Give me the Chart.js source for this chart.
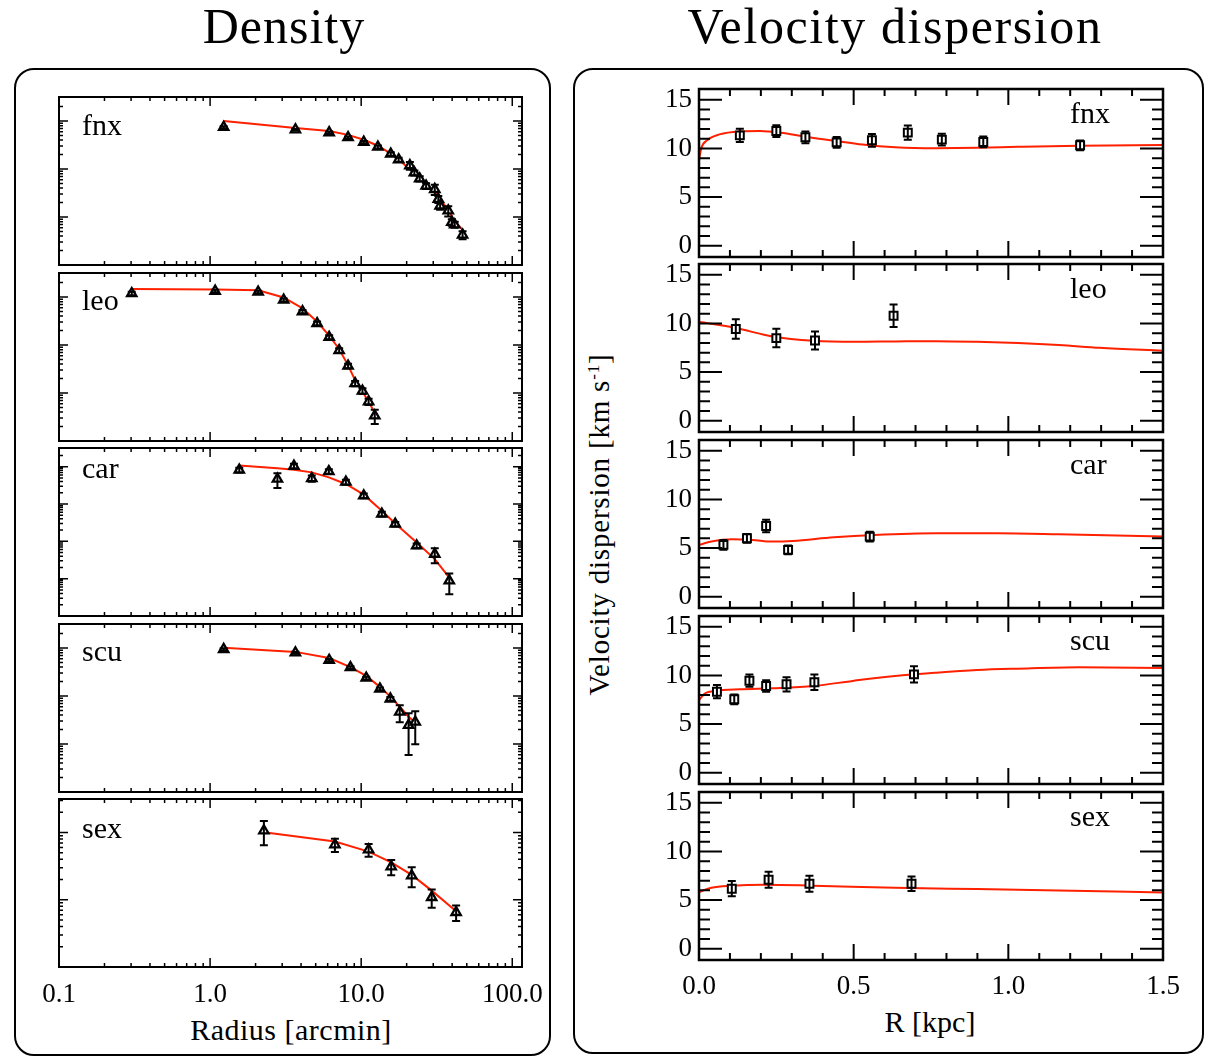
<!DOCTYPE html>
<html><head><meta charset="utf-8">
<script src="https://cdn.jsdelivr.net/npm/chart.js@4.4.1/dist/chart.umd.min.js"></script>
<style>
html,body{margin:0;padding:0;background:#fff;}
body{width:1208px;height:1057px;overflow:hidden;position:relative;font-family:"Liberation Serif",serif;color:#000;}
.box{position:absolute;border:2px solid #000;border-radius:20px;box-sizing:border-box;}
.t{position:absolute;white-space:nowrap;text-align:center;}
canvas{position:absolute;}
</style></head><body>
<div class="box" style="left:14px;top:68px;width:537px;height:988px"></div>
<div class="box" style="left:573px;top:68px;width:631px;height:986px"></div>
<div class="t" style="left:134px;width:300px;top:1px;font-size:50px;line-height:50px;letter-spacing:1px">Density</div>
<div class="t" style="left:645px;width:500px;top:1px;font-size:50px;line-height:50px;letter-spacing:1.6px">Velocity dispersion</div>
<div class="t" style="left:141px;width:300px;top:1015px;font-size:30px;line-height:30px;letter-spacing:0.5px">Radius [arcmin]</div>
<div class="t" style="left:830px;width:200px;top:1007px;font-size:30px;line-height:30px">R [kpc]</div>
<div class="t" style="left:399px;width:400px;top:510px;height:29px;font-size:29px;line-height:29px;letter-spacing:0.8px;transform:rotate(-90deg)">Velocity dispersion [km s<sup style="font-size:17px;line-height:0;vertical-align:10px">-1</sup>]</div>
<script>
// ---------------- DATA ----------------
const galaxies = ['fnx', 'leo', 'car', 'scu', 'sex'];

// Density profiles: radius [arcmin], surface density (arbitrary units), error, model
const fnxR = [1.23, 3.67, 6.14, 8.19, 10.4, 12.9, 15.7, 17.7, 21.0, 22.5, 24.4, 26.9, 30.7, 32.4, 33.3, 37.7, 39.8, 41.6, 46.9];
const fnxDens = [0.742, 0.662, 0.574, 0.453, 0.364, 0.287, 0.206, 0.157, 0.118, 0.0835, 0.0628, 0.0442, 0.0378, 0.0235, 0.0171, 0.0135, 0.00778, 0.00694, 0.00425];
const fnxDensErr = [0.04, 0.03, 0.03, 0.025, 0.02, 0.02, 0.018, 0.015, 0.022, 0.01, 0.008, 0.006, 0.009, 0.004, 0.003, 0.0032, 0.0012, 0.001, 0.0008];
const fnxDensModel = [1.0, 0.717, 0.622, 0.514, 0.406, 0.305, 0.209, 0.157, 0.098, 0.085, 0.067, 0.048, 0.033, 0.027, 0.0236, 0.0139, 0.0105, 0.0083, 0.0054];

const leoR = [0.303, 1.08, 2.08, 3.07, 4.09, 5.11, 6.14, 7.15, 8.19, 9.12, 10.2, 11.2, 12.3];
const leoDens = [1.19, 1.33, 1.27, 0.867, 0.497, 0.282, 0.145, 0.0771, 0.0366, 0.0158, 0.011, 0.00662, 0.00336];
const leoDensErr = [0.1, 0.08, 0.08, 0.06, 0.04, 0.025, 0.014, 0.008, 0.004, 0.002, 0.0015, 0.001, 0.0011];
const leoDensModel = [1.46, 1.44, 1.38, 0.98, 0.58, 0.305, 0.157, 0.0825, 0.0376, 0.0185, 0.0107, 0.0066, 0.0039];

const carR = [1.56, 2.79, 3.59, 4.71, 6.11, 7.92, 10.4, 13.7, 16.8, 23.3, 30.7, 38.3];
const carDens = [0.816, 0.468, 1.04, 0.486, 0.748, 0.389, 0.167, 0.054, 0.0291, 0.00762, 0.00457, 0.00088];
const carDensErr = [0.12, 0.2, 0.15, 0.09, 0.1, 0.06, 0.025, 0.008, 0.004, 0.0011, 0.002, 0.0005];
const carDensModel = [1.08, 0.906, 0.832, 0.703, 0.516, 0.344, 0.178, 0.066, 0.0302, 0.00933, 0.00335, 0.00107];

const scuR = [1.23, 3.67, 6.14, 8.49, 10.8, 13.3, 15.6, 18.0, 20.6, 22.8];
const scuDens = [0.94, 0.80, 0.557, 0.393, 0.237, 0.141, 0.0875, 0.0464, 0.0247, 0.0289];
const scuDensErr = [0.05, 0.04, 0.03, 0.025, 0.015, 0.01, 0.008, 0.018, 0.0188, 0.019];
const scuDensModel = [1.01, 0.83, 0.62, 0.40, 0.262, 0.155, 0.097, 0.0596, 0.037, 0.028];

const sexR = [2.27, 6.70, 11.2, 15.8, 21.6, 29.3, 42.5];
const sexDens = [1.07, 0.663, 0.558, 0.312, 0.229, 0.109, 0.0652];
const sexDensErr = [0.42, 0.15, 0.12, 0.08, 0.075, 0.033, 0.017];
const sexDensModel = [1.01, 0.735, 0.522, 0.361, 0.235, 0.137, 0.0675];

// Velocity dispersion: R [kpc], sigma [km/s], error; model curve R, sigma
const fnxVR = [0.132, 0.250, 0.344, 0.445, 0.559, 0.675, 0.785, 0.919, 1.232];
const fnxVel = [11.34, 11.78, 11.14, 10.62, 10.83, 11.62, 10.9, 10.66, 10.32];
const fnxVelErr = [0.68, 0.6, 0.6, 0.55, 0.65, 0.73, 0.6, 0.55, 0.5];
const fnxModelR = [0, 0.007, 0.026, 0.066, 0.132, 0.198, 0.264, 0.344, 0.436, 0.529, 0.634, 0.766, 0.899, 1.031, 1.229, 1.5];
const fnxModelVel = [8.78, 9.98, 10.83, 11.44, 11.74, 11.78, 11.6, 11.2, 10.8, 10.4, 10.12, 10.02, 10.06, 10.16, 10.28, 10.35];

const leoVR = [0.119, 0.250, 0.375, 0.629];
const leoVel = [9.42, 8.49, 8.25, 10.78];
const leoVelErr = [1.0, 0.95, 0.92, 1.16];
const leoModelR = [0, 0.119, 0.238, 0.370, 0.502, 0.634, 0.767, 0.899, 1.031, 1.163, 1.295, 1.5];
const leoModelVel = [10.16, 9.52, 8.66, 8.22, 8.11, 8.15, 8.18, 8.11, 7.98, 7.78, 7.5, 7.19];

const carVR = [0.079, 0.155, 0.217, 0.288, 0.552];
const carVel = [5.33, 6.01, 7.27, 4.82, 6.18];
const carVelErr = [0.5, 0.45, 0.65, 0.45, 0.5];
const carModelR = [0, 0.040, 0.106, 0.172, 0.238, 0.304, 0.436, 0.568, 0.767, 0.965, 1.163, 1.5];
const carModelVel = [5.33, 5.67, 5.91, 5.84, 5.67, 5.74, 6.11, 6.35, 6.52, 6.52, 6.42, 6.18];

const scuVR = [0.058, 0.114, 0.163, 0.217, 0.283, 0.373, 0.695];
const scuVel = [8.33, 7.55, 9.46, 8.91, 9.09, 9.29, 10.11];
const scuVelErr = [0.68, 0.5, 0.63, 0.6, 0.73, 0.8, 0.84];
const scuModelR = [0, 0.020, 0.053, 0.132, 0.238, 0.370, 0.502, 0.634, 0.767, 0.899, 1.031, 1.229, 1.5];
const scuModelVel = [7.48, 8.17, 8.4, 8.57, 8.68, 8.91, 9.46, 9.94, 10.28, 10.55, 10.69, 10.83, 10.76];

const sexVR = [0.106, 0.225, 0.357, 0.687];
const sexVel = [6.17, 7.09, 6.68, 6.68];
const sexVelErr = [0.78, 0.82, 0.82, 0.75];
const sexModelR = [0, 0.040, 0.106, 0.211, 0.370, 0.634, 0.899, 1.163, 1.5];
const sexModelVel = [5.82, 6.27, 6.48, 6.58, 6.48, 6.27, 6.13, 5.99, 5.79];

// tick labels
const densXTickLabels = [0.1, 1, 10, 100];
const velXTickLabels = [0, 0.5, 1.0, 1.5];
const velYTickLabels = [0, 5, 10, 15];

// ---------------- BUILD ----------------
const density = {
  fnx: {r: fnxR, s: fnxDens, e: fnxDensErr, m: fnxDensModel, ymin: 1e-3},
  leo: {r: leoR, s: leoDens, e: leoDensErr, m: leoDensModel, ymin: 1e-3},
  car: {r: carR, s: carDens, e: carDensErr, m: carDensModel, ymin: 1e-4},
  scu: {r: scuR, s: scuDens, e: scuDensErr, m: scuDensModel, ymin: 1e-3},
  sex: {r: sexR, s: sexDens, e: sexDensErr, m: sexDensModel, ymin: 1e-2}
};
const velocity = {
  fnx: {r: fnxVR, v: fnxVel, e: fnxVelErr, mr: fnxModelR, mv: fnxModelVel},
  leo: {r: leoVR, v: leoVel, e: leoVelErr, mr: leoModelR, mv: leoModelVel},
  car: {r: carVR, v: carVel, e: carVelErr, mr: carModelR, mv: carModelVel},
  scu: {r: scuVR, v: scuVel, e: scuVelErr, mr: scuModelR, mv: scuModelVel},
  sex: {r: sexVR, v: sexVel, e: sexVelErr, mr: sexModelR, mv: sexModelVel}
};

const RED = '#ff2000';
const FONT = 'Liberation Serif';
const TICK_FONT = {family: FONT, size: 27};

function logTicks(min, max) {
  const major = [], minor = [];
  for (let k = Math.floor(Math.log10(min)); k <= Math.ceil(Math.log10(max)); k++) {
    for (let m = 1; m <= 9; m++) {
      const v = m * Math.pow(10, k);
      if (v < min * 0.999 || v > max * 1.001) continue;
      (m === 1 ? major : minor).push(v);
    }
  }
  return {major, minor};
}
function linTicks(min, max, step, majorEvery) {
  const major = [], minor = [];
  const i0 = Math.ceil(min / step - 1e-9), i1 = Math.floor(max / step + 1e-9);
  for (let i = i0; i <= i1; i++) {
    const v = +(i * step).toFixed(6);
    (i % majorEvery === 0 ? major : minor).push(v);
  }
  return {major, minor};
}

const framePlugin = {
  id: 'frame',
  afterDraw(chart, args, o) {
    const {ctx, chartArea: a} = chart;
    const xs = chart.scales.x, ys = chart.scales.y;
    ctx.save();
    ctx.strokeStyle = '#000';
    ctx.lineWidth = o.tickWidth;
    ctx.beginPath();
    const xt = (vals, len) => vals.forEach(v => {
      const p = xs.getPixelForValue(v);
      if (p <= a.left + 1.5 || p >= a.right - 1.5) return;
      ctx.moveTo(p, a.top); ctx.lineTo(p, a.top + len);
      ctx.moveTo(p, a.bottom); ctx.lineTo(p, a.bottom - len);
    });
    const yt = (vals, len) => vals.forEach(v => {
      const p = ys.getPixelForValue(v);
      if (p <= a.top + 1.5 || p >= a.bottom - 1.5) return;
      ctx.moveTo(a.left, p); ctx.lineTo(a.left + len, p);
      ctx.moveTo(a.right, p); ctx.lineTo(a.right - len, p);
    });
    xt(o.x.minor, o.xMinLen); xt(o.x.major, o.xMajLen);
    yt(o.y.minor, o.yMinLen); yt(o.y.major, o.yMajLen);
    ctx.stroke();
    ctx.lineWidth = o.frameWidth;
    ctx.strokeRect(a.left, a.top, a.right - a.left, a.bottom - a.top);
    ctx.fillStyle = '#000';
    ctx.font = o.labelFont;
    ctx.textAlign = 'left';
    ctx.textBaseline = 'alphabetic';
    ctx.fillText(o.label, a.left + o.labelDx, a.top + o.labelDy);
    ctx.restore();
  }
};

const errPlugin = {
  id: 'errbars',
  afterDatasetsDraw(chart, args, o) {
    const {ctx} = chart;
    const ys = chart.scales.y;
    chart.data.datasets.forEach((ds, i) => {
      if (!ds.errors) return;
      const meta = chart.getDatasetMeta(i);
      ctx.save();
      ctx.strokeStyle = '#000';
      ctx.lineWidth = o.width;
      ctx.beginPath();
      meta.data.forEach((pt, j) => {
        const v = ds.data[j].y, e = ds.errors[j];
        const lo = Math.max(v - e, ys.min);
        const y1 = ys.getPixelForValue(v + e), y2 = ys.getPixelForValue(lo);
        ctx.moveTo(pt.x, y1); ctx.lineTo(pt.x, y2);
        ctx.moveTo(pt.x - o.cap, y1); ctx.lineTo(pt.x + o.cap, y1);
        ctx.moveTo(pt.x - o.cap, y2); ctx.lineTo(pt.x + o.cap, y2);
      });
      ctx.stroke();
      ctx.restore();
    });
  }
};

function makeCanvas(left, top, w, h) {
  const cv = document.createElement('canvas');
  cv.width = w; cv.height = h;
  cv.style.left = left + 'px'; cv.style.top = top + 'px';
  cv.style.width = w + 'px'; cv.style.height = h + 'px';
  document.body.appendChild(cv);
  return cv;
}

// Left column: density
const LEFT_TOPS = [97, 273, 448, 624, 799];
const LEFT_LABEL_DY = [38, 37, 30, 37, 39];
const DENS_XMAX = 116, DENS_YMAX = Math.pow(10, 0.5);
galaxies.forEach((g, i) => {
  const d = density[g];
  const last = i === galaxies.length - 1;
  const T = 20, XH = last ? 60 : 20, H = 168, W = 562, CL = 20, YW = 39, R = W - YW - 463;
  const cv = makeCanvas(CL, LEFT_TOPS[i] - T, W, T + H + XH);
  new Chart(cv, {
    type: 'scatter',
    data: {datasets: [
      {data: d.r.map((x, k) => ({x, y: d.s[k]})), errors: d.e, pointStyle: 'triangle', pointRadius: 5.4,
       borderColor: '#000', backgroundColor: '#fff', borderWidth: 2.3},
      {data: d.r.map((x, k) => ({x, y: d.m[k]})), showLine: true, pointRadius: 0, borderColor: RED,
       borderWidth: 2, tension: 0, fill: false}
    ]},
    options: {
      responsive: false, animation: false, devicePixelRatio: 1, events: [],
      layout: {padding: {left: 0, right: R, top: T, bottom: 0}},
      plugins: {
        legend: {display: false}, tooltip: {enabled: false},
        frame: {x: logTicks(0.1, DENS_XMAX), y: logTicks(d.ymin, DENS_YMAX), xMinLen: 4, xMajLen: 9,
                yMinLen: 4, yMajLen: 9, tickWidth: 1.5, frameWidth: 2, label: g,
                labelFont: '30px "' + FONT + '"', labelDx: 23, labelDy: LEFT_LABEL_DY[i]},
        errbars: {width: 2, cap: 4}
      },
      scales: {
        x: {type: 'logarithmic', min: 0.1, max: DENS_XMAX, position: 'bottom',
            grid: {display: false, drawTicks: false}, border: {display: false},
            ticks: {display: last, autoSkip: false, maxRotation: 0, minRotation: 0, padding: 12, color: '#000',
                    font: TICK_FONT, callback: v => Number(v).toFixed(1)},
            afterBuildTicks: s => { s.ticks = densXTickLabels.map(v => ({value: v})); },
            afterFit: s => { s.height = XH; }},
        y: {type: 'logarithmic', min: d.ymin, max: DENS_YMAX, position: 'left',
            grid: {display: false, drawTicks: false}, border: {display: false},
            ticks: {display: false},
            afterFit: s => { s.width = YW; }}
      }
    },
    plugins: [framePlugin, errPlugin]
  });
});

// Right column: velocity dispersion
const RIGHT_TOPS = [89, 264, 440, 616, 792];
const V_YMIN = -1.15, V_YMAX = 16.1;
galaxies.forEach((g, i) => {
  const d = velocity[g];
  const last = i === galaxies.length - 1;
  const T = 30, XH = last ? 70 : 30, H = 168, W = 575, CL = 620, YW = 79, R = W - YW - 464;
  const cv = makeCanvas(CL, RIGHT_TOPS[i] - T, W, T + H + XH);
  new Chart(cv, {
    type: 'scatter',
    data: {datasets: [
      {data: d.r.map((x, k) => ({x, y: d.v[k]})), errors: d.e, pointStyle: 'rect', pointRadius: 5.6,
       borderColor: '#000', backgroundColor: '#fff', borderWidth: 2},
      {data: d.mr.map((x, k) => ({x, y: d.mv[k]})), showLine: true, pointRadius: 0, borderColor: RED,
       borderWidth: 2, cubicInterpolationMode: 'monotone', fill: false}
    ]},
    options: {
      responsive: false, animation: false, devicePixelRatio: 1, events: [],
      layout: {padding: {left: 0, right: R, top: T, bottom: 0}},
      plugins: {
        legend: {display: false}, tooltip: {enabled: false},
        frame: {x: linTicks(0, 1.5, 0.1, 5), y: linTicks(V_YMIN, V_YMAX, 1, 5), xMinLen: 7, xMajLen: 16,
                yMinLen: 11, yMajLen: 23, tickWidth: 2, frameWidth: 2.5, label: g,
                labelFont: '30px "' + FONT + '"', labelDx: 371, labelDy: 34},
        errbars: {width: 2, cap: 4}
      },
      scales: {
        x: {type: 'linear', min: 0, max: 1.5, position: 'bottom',
            grid: {display: false, drawTicks: false}, border: {display: false},
            ticks: {display: last, autoSkip: false, maxRotation: 0, minRotation: 0, padding: 11, color: '#000',
                    font: TICK_FONT, callback: v => Number(v).toFixed(1)},
            afterBuildTicks: s => { s.ticks = velXTickLabels.map(v => ({value: v})); },
            afterFit: s => { s.height = XH; }},
        y: {type: 'linear', min: V_YMIN, max: V_YMAX, position: 'left',
            grid: {display: false, drawTicks: false}, border: {display: false},
            ticks: {display: true, autoSkip: false, padding: 7, color: '#000', font: TICK_FONT,
                    callback: v => String(v)},
            afterBuildTicks: s => { s.ticks = velYTickLabels.map(v => ({value: v})); },
            afterFit: s => { s.width = YW; }}
      }
    },
    plugins: [framePlugin, errPlugin]
  });
});
</script>
</body></html>
